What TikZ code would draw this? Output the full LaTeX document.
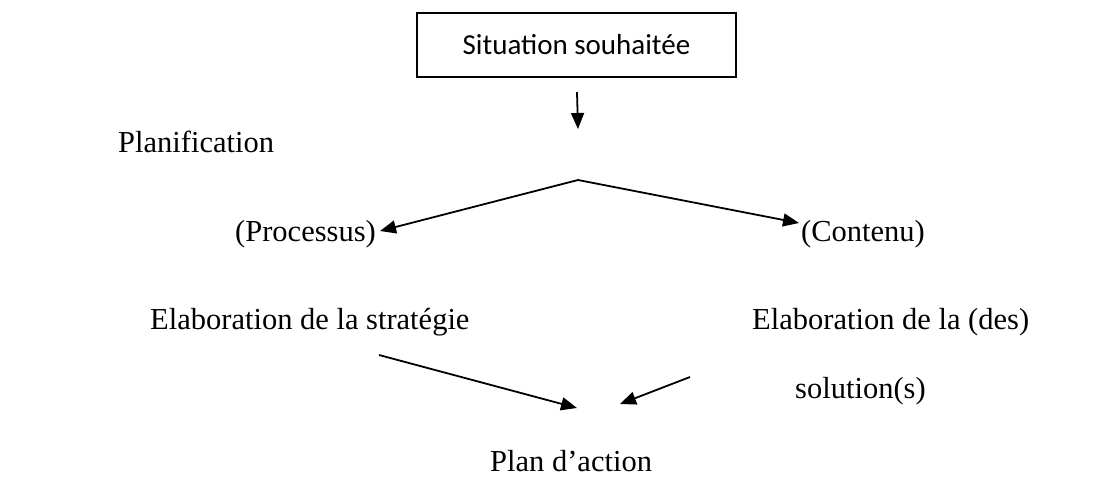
\documentclass[tikz,border=0pt]{standalone}
\usepackage{fontspec}
\setmainfont{Liberation Serif}
\newfontfamily\calfont{Carlito}
\usetikzlibrary{arrows.meta}
\tikzset{
  lbl/.style={anchor=base west, inner sep=0pt, font=\fontsize{30.5}{36}\selectfont},
  topbox/.style={draw, line width=1.6pt, minimum width=319pt, minimum height=64pt, inner sep=0pt, font=\calfont\fontsize{29}{34}\selectfont},
  arr/.style={line width=1.8pt, -{Triangle[length=16pt,width=13pt]}}
}
\begin{document}
\begin{tikzpicture}[x=1pt,y=-1pt]
\useasboundingbox (0,0) rectangle (1111,495);
\node[topbox] (box) at (576.5,45) {Situation souhaitée};
\node[lbl] (plan) at (118,152) {Planification};
\node[lbl] (proc) at (235,241) {(Processus)};
\node[lbl] (cont) at (801,241) {(Contenu)};
\node[lbl] (elab1) at (150,329) {Elaboration de la stratégie};
\node[lbl] (elab2) at (752,329) {Elaboration de la (des)};
\node[lbl] (sol) at (795,398) {solution(s)};
\node[lbl] (pa) at (490,471) {Plan d’action};
\coordinate (d0) at (577,92);
\coordinate (d1) at (578,129);
\coordinate (v) at (578,180);
\coordinate (pt) at (380,231);
\coordinate (ct) at (799,223);
\coordinate (l0) at (379,355);
\coordinate (l1) at (577,408);
\coordinate (r0) at (690,377);
\coordinate (r1) at (620,404);
\draw[arr] (d0) -- (d1);
\draw[arr] (v) -- (pt);
\draw[arr] (v) -- (ct);
\draw[arr] (l0) -- (l1);
\draw[arr] (r0) -- (r1);
\end{tikzpicture}
\end{document}
